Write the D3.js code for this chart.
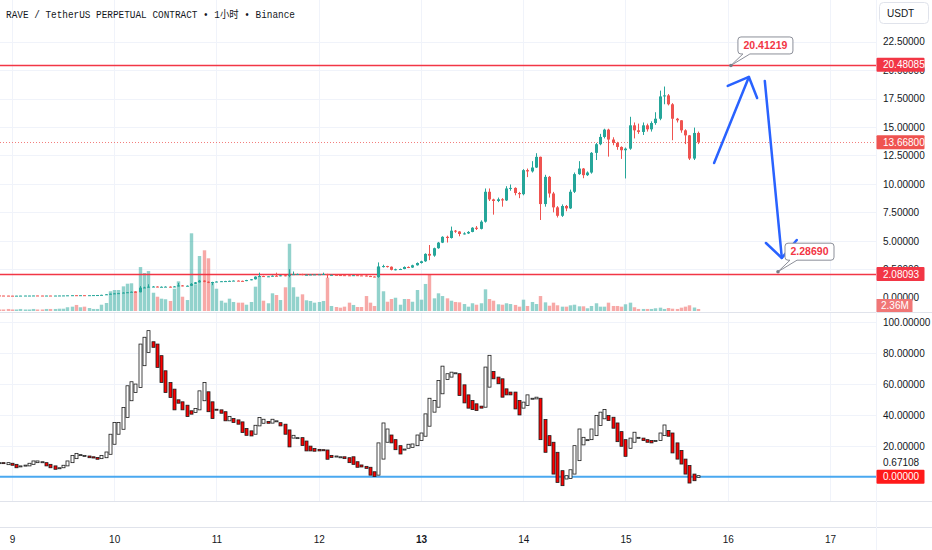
<!DOCTYPE html>
<html>
<head>
<meta charset="utf-8">
<script src="https://cdn.jsdelivr.net/npm/d3@7"></script>
<style>
body { margin: 0; background: #fff; }
svg text { font-family: "Liberation Sans", Arial, sans-serif; }
</style>
</head>
<body>
<svg id="chart" width="932" height="550"></svg>
<script>
// RAVE/USDT perp, 1h candles
// first candle is day 8 21:00 (hour -3 counted from day 9 00:00)
var firstHour = -3;

var opens = [
  .20,.19,.185,.18,.175,.18,.185,.19,.19,.195,.19,.185,
  .19,.185,.19,.195,.20,.21,.22,.21,.22,.21,.22,.23,
  .235,.25,.30,.35,.38,.40,.45,.48,.52,.48,.88,.90,
  .97,.98,.95,.96,.97,.94,.99,1.08,1.02,1.05,1.22,1.35,
  1.50,1.40,1.33,1.38,1.42,1.45,1.46,1.48,1.50,1.48,1.46,1.55,
  1.62,1.85,1.90,1.86,1.88,1.93,1.90,1.97,1.92,2.05,2.07,2.08,
  2.00,2.02,2.04,2.05,2.06,2.08,1.98,2.01,1.99,1.98,1.97,1.95,
  1.98,1.96,1.95,1.90,1.86,1.82,2.74,2.78,2.72,2.45,2.50,2.52,
  2.70,2.65,2.85,3.05,3.20,3.85,3.70,4.35,4.84,5.35,5.25,5.89,
  5.82,5.60,5.65,5.78,6.15,6.05,6.68,9.31,8.64,8.50,8.65,8.55,
  9.60,9.65,9.20,9.10,11.21,11.10,11.44,12.38,8.23,10.62,9.16,7.94,
  7.20,8.06,7.85,9.31,10.86,11.35,10.77,11.00,12.73,13.49,14.13,14.77,
  13.90,13.60,13.25,12.96,13.10,15.15,14.71,14.57,15.15,14.80,15.35,15.73,
  17.69,17.78,17.00,15.73,15.59,14.71,14.27,12.23,14.48
];
var highs = [
  .205,.195,.19,.185,.185,.19,.195,.195,.20,.20,.195,.195,
  .195,.195,.20,.205,.215,.225,.23,.225,.225,.225,.235,.24,
  .26,.31,.36,.40,.42,.47,.50,.55,.56,1.02,.96,1.18,
  1.02,1.00,.99,1.00,.99,1.02,1.30,1.10,1.08,1.28,1.38,1.56,
  1.52,1.43,1.40,1.44,1.47,1.48,1.50,1.52,1.52,1.50,1.57,1.64,
  1.88,2.20,1.93,1.90,1.96,2.20,1.99,2.00,2.50,2.30,2.12,2.10,
  2.04,2.06,2.07,2.08,2.20,2.10,2.03,2.03,2.01,2.00,1.99,2.00,
  2.00,1.98,1.97,1.93,1.88,3.10,2.90,2.80,2.75,2.55,2.56,2.75,
  2.75,2.90,3.10,3.25,3.90,4.63,4.40,4.90,5.40,5.45,6.25,5.95,
  5.85,5.75,5.85,6.20,6.30,6.80,9.60,9.60,8.70,8.80,8.75,9.80,
  9.95,9.70,9.30,11.30,11.35,12.00,12.70,12.40,10.80,10.70,9.30,8.05,
  8.20,8.15,9.50,11.00,12.00,11.40,11.10,12.80,13.60,14.40,14.85,14.85,
  14.10,13.70,13.30,13.20,15.90,15.40,15.30,15.40,15.30,15.50,16.30,18.20,
  18.56,17.90,17.10,15.80,15.60,14.80,14.30,14.95,14.60
];
var lows = [
  .185,.18,.175,.17,.17,.175,.18,.185,.185,.185,.18,.18,
  .18,.18,.185,.19,.195,.205,.20,.205,.20,.205,.215,.225,
  .23,.245,.29,.34,.37,.39,.44,.47,.46,.47,.85,.88,
  .93,.92,.93,.94,.91,.93,.98,1.00,1.00,1.03,1.20,1.33,
  1.36,1.28,1.10,1.36,1.40,1.42,1.44,1.46,1.46,1.44,1.45,1.53,
  1.60,1.83,1.82,1.84,1.86,1.88,1.88,1.88,1.80,2.00,2.04,1.97,
  1.98,2.00,2.02,2.03,2.04,1.73,1.96,1.98,1.97,1.96,1.93,1.94,
  1.95,1.94,1.88,1.84,1.80,1.75,2.65,2.65,2.40,2.40,2.45,2.50,
  2.60,2.62,2.82,3.00,3.15,3.30,3.60,4.30,4.80,4.85,5.20,5.70,
  5.40,5.55,5.60,5.75,5.95,6.00,6.60,8.50,7.30,8.40,8.00,8.50,
  9.40,9.00,8.75,9.00,10.60,11.00,11.40,6.83,8.00,8.80,7.50,7.05,
  7.10,7.60,7.80,9.20,10.80,10.50,10.70,10.90,12.10,13.40,14.00,12.40,
  13.40,13.00,12.20,10.48,13.00,14.00,14.40,14.30,14.60,14.60,15.20,15.60,
  17.00,16.90,13.84,15.40,14.50,13.50,12.10,12.10,13.50
];
var closes = [
  .19,.185,.18,.175,.18,.185,.19,.19,.195,.19,.185,.19,
  .185,.19,.195,.20,.21,.22,.21,.22,.21,.22,.23,.235,
  .25,.30,.35,.38,.40,.45,.48,.52,.48,.88,.90,.97,
  .98,.95,.96,.97,.94,.99,1.08,1.02,1.05,1.22,1.35,1.50,
  1.40,1.33,1.38,1.42,1.45,1.46,1.48,1.50,1.48,1.46,1.55,1.62,
  1.85,1.90,1.86,1.88,1.93,1.90,1.97,1.92,2.05,2.07,2.08,2.00,
  2.02,2.04,2.05,2.06,2.08,1.98,2.01,1.99,1.98,1.97,1.95,1.98,
  1.96,1.95,1.90,1.86,1.82,2.74,2.78,2.72,2.45,2.50,2.52,2.70,
  2.65,2.85,3.05,3.20,3.85,3.70,4.35,4.84,5.35,5.25,5.89,5.82,
  5.60,5.65,5.78,6.15,6.05,6.68,9.31,8.64,8.50,8.65,8.55,9.60,
  9.65,9.20,9.10,11.21,11.10,11.44,12.38,8.23,10.62,9.16,7.94,7.20,
  8.06,7.85,9.31,10.86,11.35,10.77,11.00,12.73,13.49,14.13,14.77,13.90,
  13.60,13.25,12.96,13.10,15.15,14.71,14.57,15.15,14.80,15.35,15.73,17.69,
  17.78,17.00,15.73,15.59,14.71,14.27,12.23,14.48,13.668
];
// volume in millions
var volumes = [
  1.8,1.8,2.4,1.8,1.8,2.4,1.8,1.8,2.4,1.8,1.8,2.4,
  2.4,2.4,2.7,2.7,4.4,5.1,7.1,4.4,5.1,3.5,2.4,2.4,
  7.4,9.4,23.2,24.7,24.7,29.0,32.1,32.6,23.5,51.7,44.7,47.0,
  21.5,16.8,14.5,13.8,11.8,26.2,34.9,16.8,12.9,91.4,31.4,64.7,
  71.4,62.0,33.3,26.2,12.1,9.8,14.5,10.6,9.8,9.8,7.4,10.6,
  28.6,41.2,12.1,9.1,20.8,18.8,12.9,27.9,79.1,27.9,16.8,19.6,
  12.6,11.8,9.8,10.6,11.8,39.2,5.9,4.7,3.9,5.1,9.8,7.1,
  4.7,4.7,17.6,9.8,5.9,52.1,23.2,10.9,14.1,15.6,7.4,14.1,
  14.1,10.9,24.7,13.3,31.8,43.5,14.9,20.8,17.6,14.9,12.1,10.6,
  10.2,8.2,5.1,9.1,7.4,9.1,25.5,14.1,12.1,7.9,7.4,9.1,
  8.2,7.1,5.1,13.3,5.9,10.6,8.2,17.6,10.2,6.2,9.8,6.7,
  5.1,5.1,6.7,7.4,5.5,5.5,3.2,5.9,9.1,5.1,5.1,9.8,
  5.9,5.9,5.1,7.9,9.8,4.4,2.4,2.4,2.4,2.4,3.2,3.9,
  2.4,3.5,2.7,2.4,3.9,5.1,6.7,4.1,2.36
];
// lower pane oscillator, drawn as open/close bodies
var oscOpen = [
  9.1,9.1,7.8,8.7,8.0,7.0,7.4,7.0,8.0,9.1,9.7,9.1,
  8.0,7.0,5.8,5.8,7.0,9.1,11.7,14.3,13.8,13.4,12.9,12.5,
  11.7,12.3,14.5,21.0,27.5,30.7,38.3,49.2,54.5,57.8,71.9,80.5,
  87.4,85.9,78.4,68.6,61.0,56.7,49.8,48.5,46.3,42.7,41.6,43.3,
  49.2,55.0,48.5,43.7,43.3,42.1,36.2,37.7,36.8,35.5,31.2,29.7,
  27.5,32.9,34.6,35.8,34.7,36.2,35.0,34.0,30.3,25.0,25.3,25.3,
  23.1,19.8,18.2,17.7,17.5,17.3,13.8,13.4,12.9,12.9,12.3,12.9,
  9.7,7.6,6.7,6.1,3.2,1.0,11.4,22.3,27.0,24.0,20.1,17.9,
  18.4,19.0,20.1,23.4,26.2,32.7,41.8,45.0,53.7,62.9,64.5,67.3,
  66.7,59.5,53.0,49.3,47.2,45.7,45.0,58.0,68.2,64.5,63.4,56.9,
  54.8,54.8,49.3,44.4,46.1,50.8,50.4,50.8,37.0,26.6,22.3,15.8,
  3.9,-1.5,-1.1,1.7,10.4,20.6,24.0,24.0,26.6,33.1,37.5,39.6,
  38.5,34.8,29.2,24.0,18.4,22.3,25.5,25.0,24.0,23.4,23.4,23.4,
  26.6,29.9,28.3,21.9,17.0,11.4,7.2,1.7,-0.4
];
var oscClose = [
  9.1,9.0,9.1,7.4,5.8,7.0,7.5,8.7,10.2,10.2,9.7,7.0,
  5.8,4.8,5.8,7.4,10.2,13.8,15.1,14.3,13.8,12.3,12.1,11.3,
  13.8,16.0,27.5,35.1,35.1,44.8,58.9,61.5,60.0,85.9,90.3,94.6,
  83.8,70.8,61.0,54.5,51.3,43.3,47.6,43.3,39.0,40.5,44.2,55.6,
  61.0,42.1,37.7,43.5,41.1,36.2,39.0,35.1,34.0,28.6,26.8,26.4,
  33.3,38.3,37.2,34.6,37.2,36.2,32.9,27.5,19.3,26.8,25.3,20.2,
  16.7,16.7,16.5,16.7,16.8,11.3,12.5,13.4,12.9,11.7,9.1,8.0,
  6.1,6.3,5.4,1.0,0.2,21.9,34.8,30.9,21.9,17.5,14.7,17.9,
  21.0,21.2,27.0,28.3,40.7,50.8,49.3,62.3,71.6,66.7,67.7,67.3,
  52.6,47.8,44.4,43.5,42.9,44.4,71.0,78.6,63.4,60.2,51.5,53.0,
  53.0,43.9,40.0,48.3,53.0,50.8,51.5,24.0,15.8,20.1,1.7,-3.7,
  -5.8,0.65,4.5,20.1,30.9,25.5,24.0,30.9,39.6,41.8,43.5,36.4,
  31.4,22.7,19.7,13.2,25.0,28.8,25.5,23.4,22.3,21.9,23.4,28.3,
  33.5,26.2,15.4,11.4,8.2,1.7,-4.1,-2.6,0.67108
];

// tick labels
var dayLabels = [9, 10, 11, 12, 13, 14, 15, 16, 17];
var boldDay = 13;
var priceTicks = [0, 2.5, 5, 7.5, 10, 12.5, 15, 17.5, 20, 22.5];
var oscTicks = [20, 40, 60, 80, 100];

// drawn levels + the author's annotations, in (hour, price)
var levelLines = [20.48085, 2.08093];
var upArrow = [[164.8, 11.84], [172.97, 19.40]];
var upHead = [[168.0, 18.61], [172.97, 19.40], [174.9, 17.55]];
var downArrow = [[176.7, 19.05], [180.7, 3.49]];
var downHead = [[176.97, 4.81], [180.7, 3.49], [184.2, 5.07]];
var callouts = [[168.75, 20.41219], [179.8, 2.28690]];

var green = '#26a69a', red = '#ef5350', lineRed = '#f23645';
var gridColor = '#f0f3fa', sepColor = '#e0e3eb', textColor = '#131722';

var svg = d3.select('#chart');
var plotW = 876;
var n = closes.length;
var idx = d3.range(n);
function hourOf(i) { return firstHour + i; }

var x = d3.scaleLinear().domain([-2.8, 202.8]).range([0, plotW]);
var yPrice = d3.scaleLinear().domain([0, 22.5]).range([297.7, 41.7]);
var yVol = d3.scaleLinear().domain([0, 100]).range([311, 226]);
var yOsc = d3.scaleLinear().domain([0, 100]).range([476.7, 322.3]);
var dayHours = dayLabels.map(function(d){ return (d - 9) * 24; });
var fmt5 = d3.format('.5f');

function cx(i) { return Math.round(x(hourOf(i))); }

var defs = svg.append('defs');
defs.append('clipPath').attr('id', 'clipTop').append('rect')
    .attr('x', 0).attr('y', 0).attr('width', plotW).attr('height', 311);
defs.append('clipPath').attr('id', 'clipOsc').append('rect')
    .attr('x', 0).attr('y', 313).attr('width', plotW).attr('height', 188);

// GRID
var grid = svg.append('g');
dayHours.forEach(function(h){
    var gx = Math.round(x(h)) + 0.5;
    grid.append('line').attr('x1', gx).attr('x2', gx).attr('y1', 0).attr('y2', 311).attr('stroke', gridColor);
    grid.append('line').attr('x1', gx).attr('x2', gx).attr('y1', 313).attr('y2', 501).attr('stroke', gridColor);
});
priceTicks.slice(1).forEach(function(p){
    var gy = Math.round(yPrice(p)) + 0.5;
    grid.append('line').attr('x1', 0).attr('x2', plotW).attr('y1', gy).attr('y2', gy).attr('stroke', gridColor);
});
oscTicks.forEach(function(v){
    var gy = Math.round(yOsc(v)) + 0.5;
    grid.append('line').attr('x1', 0).attr('x2', plotW).attr('y1', gy).attr('y2', gy).attr('stroke', gridColor);
});

// VOLUME (overlay at the bottom of the price pane)
var pricePane = svg.append('g').attr('clip-path', 'url(#clipTop)');
pricePane.selectAll('rect.vol').data(idx).enter().append('rect')
    .attr('class', 'vol')
    .attr('x', function(i){ return cx(i) - 1.2; })
    .attr('width', 3.4)
    .attr('y', function(i){ return yVol(volumes[i]); })
    .attr('height', function(i){ return yVol(0) - yVol(volumes[i]); })
    .attr('fill', function(i){ return closes[i] >= opens[i] ? green : red; })
    .attr('fill-opacity', 0.5);

// level lines + last price
levelLines.forEach(function(p){
    var ly = Math.round(yPrice(p)) + 0.5;
    pricePane.append('line').attr('x1', 0).attr('x2', plotW).attr('y1', ly).attr('y2', ly)
        .attr('stroke', lineRed).attr('stroke-width', 1.5);
});
var lastY = Math.round(yPrice(closes[n - 1])) + 0.5;
pricePane.append('line').attr('x1', 0).attr('x2', plotW).attr('y1', lastY).attr('y2', lastY)
    .attr('stroke', red).attr('stroke-opacity', 0.75).attr('stroke-dasharray', '1 2');

// CANDLES
var candles = pricePane.selectAll('g.candle').data(idx).enter().append('g')
    .attr('class', 'candle')
    .attr('fill', function(i){ return closes[i] >= opens[i] ? green : red; })
    .attr('stroke', function(i){ return closes[i] >= opens[i] ? green : red; });
candles.append('line')
    .attr('x1', function(i){ return cx(i) + 0.5; })
    .attr('x2', function(i){ return cx(i) + 0.5; })
    .attr('y1', function(i){ return yPrice(highs[i]); })
    .attr('y2', function(i){ return yPrice(lows[i]); })
    .attr('stroke-width', 1);
candles.append('rect')
    .attr('stroke', 'none')
    .attr('x', function(i){ return cx(i) - 1; })
    .attr('width', 3)
    .attr('y', function(i){ return yPrice(Math.max(opens[i], closes[i])); })
    .attr('height', function(i){ return Math.max(1, Math.abs(yPrice(opens[i]) - yPrice(closes[i]))); });

// OSCILLATOR PANE
var oscPane = svg.append('g').attr('clip-path', 'url(#clipOsc)');
oscPane.append('line').attr('x1', 0).attr('x2', plotW).attr('y1', yOsc(0)).attr('y2', yOsc(0))
    .attr('stroke', '#4aa8f0').attr('stroke-width', 2);
oscPane.selectAll('rect.osc').data(idx).enter().append('rect')
    .attr('class', 'osc')
    .attr('x', function(i){ return cx(i) - 1; })
    .attr('width', 3)
    .attr('y', function(i){ return yOsc(Math.max(oscOpen[i], oscClose[i])); })
    .attr('height', function(i){ return Math.max(1, Math.abs(yOsc(oscOpen[i]) - yOsc(oscClose[i]))); })
    .attr('fill', function(i){ return oscClose[i] >= oscOpen[i] ? '#ffffff' : '#ff0000'; })
    .attr('stroke', '#1b1b1b').attr('stroke-width', 0.8);

// PANE SEPARATORS
[312.5, 501.5, 527.5].forEach(function(sy){
    svg.append('line').attr('x1', 0).attr('x2', 932).attr('y1', sy).attr('y2', sy).attr('stroke', sepColor);
});
svg.append('line').attr('x1', plotW + 0.5).attr('x2', plotW + 0.5).attr('y1', 0).attr('y2', 550).attr('stroke', gridColor);

// AXES
var priceAxis = svg.append('g').attr('transform', 'translate(' + plotW + ',0)')
    .call(d3.axisRight(yPrice).tickValues(priceTicks).tickSize(0).tickPadding(7).tickFormat(fmt5));
var oscAxis = svg.append('g').attr('transform', 'translate(' + plotW + ',0)')
    .call(d3.axisRight(yOsc).tickValues(oscTicks).tickSize(0).tickPadding(7).tickFormat(fmt5));
var timeAxis = svg.append('g').attr('transform', 'translate(0,527)')
    .call(d3.axisBottom(x).tickValues(dayHours).tickSize(0).tickPadding(9)
        .tickFormat(function(h){ return 9 + h / 24; }));
[priceAxis, oscAxis, timeAxis].forEach(function(a){
    a.select('.domain').remove();
    a.selectAll('text').attr('fill', textColor).style('font-size', '10px')
        .style('font-family', '"Liberation Sans", Arial, sans-serif');
});
timeAxis.selectAll('text')
    .style('font-weight', function(h){ return (9 + h / 24) === boldDay ? 'bold' : 'normal'; });

// right-scale value boxes
function valueBox(cy, label, fill) {
    var g = svg.append('g');
    g.append('rect').attr('x', plotW + 0.5).attr('y', cy - 7).attr('width', 48).attr('height', 14)
        .attr('rx', 1).attr('fill', fill);
    g.append('text').attr('x', plotW + 7).attr('y', cy).attr('dy', '0.35em')
        .attr('fill', '#fff').style('font-size', '10px').text(label);
}
valueBox(yPrice(levelLines[0]), fmt5(levelLines[0]), lineRed);
valueBox(yPrice(closes[n - 1]), fmt5(closes[n - 1]), red);
valueBox(yPrice(levelLines[1]), fmt5(levelLines[1]), lineRed);
var volLabelY = Math.min(yVol(volumes[n - 1]), 305.5);
svg.append('rect').attr('x', plotW + 0.5).attr('y', volLabelY - 6.5).attr('width', 36).attr('height', 13)
    .attr('fill', '#f07676');
svg.append('text').attr('x', plotW + 5).attr('y', volLabelY).attr('dy', '0.35em')
    .attr('fill', '#fff').style('font-size', '10px').text(d3.format('.2f')(volumes[n - 1]) + 'M');

// oscillator last value + zero level
var lastOsc = oscClose[n - 1];
svg.append('text').attr('x', plotW + 7).attr('y', yOsc(lastOsc) - 13).attr('dy', '0.35em')
    .attr('fill', textColor).style('font-size', '10px').text(fmt5(lastOsc));
valueBox(yOsc(0), fmt5(0), '#ff1a1a');

// currency box
svg.append('rect').attr('x', 879.5).attr('y', 2.5).attr('width', 49).attr('height', 21).attr('rx', 4)
    .attr('fill', '#fff').attr('stroke', sepColor);
svg.append('text').attr('x', 887).attr('y', 17).attr('fill', textColor).style('font-size', '10px').text('USDT');

// ANNOTATIONS
var pline = d3.line().x(function(d){ return x(d[0]); }).y(function(d){ return yPrice(d[1]); });
[upArrow, upHead, downArrow, downHead].forEach(function(pts){
    svg.append('path').attr('d', pline(pts)).attr('fill', 'none')
        .attr('stroke', '#2962ff').attr('stroke-width', 2.5)
        .attr('stroke-linecap', 'round').attr('stroke-linejoin', 'round');
});

callouts.forEach(function(c){
    var px = x(c[0]), py = yPrice(c[1]);
    var label = fmt5(c[1]);
    var w = label.length * 6 + 7, h = 17, r = 3;
    var bx = px + 7, by = py - 28.5;
    var d = 'M' + (bx + r) + ',' + by + 'H' + (bx + w - r) +
        'Q' + (bx + w) + ',' + by + ' ' + (bx + w) + ',' + (by + r) +
        'V' + (by + h - r) + 'Q' + (bx + w) + ',' + (by + h) + ' ' + (bx + w - r) + ',' + (by + h) +
        'H' + (bx + 12) + 'L' + px + ',' + py + 'L' + (bx + 5) + ',' + (by + h) +
        'H' + (bx + r) + 'Q' + bx + ',' + (by + h) + ' ' + bx + ',' + (by + h - r) +
        'V' + (by + r) + 'Q' + bx + ',' + by + ' ' + (bx + r) + ',' + by + 'Z';
    svg.append('path').attr('d', d).attr('fill', '#fff').attr('stroke', '#8c8f99').attr('stroke-width', 1);
    svg.append('circle').attr('cx', px).attr('cy', py).attr('r', 1.8).attr('fill', '#787b86');
    svg.append('text').attr('x', bx + w / 2).attr('y', by + h / 2).attr('dy', '0.35em')
        .attr('text-anchor', 'middle').attr('fill', lineRed)
        .style('font-size', '10.5px').style('font-weight', 'bold').text(label);
});

// TITLE
svg.append('text').attr('x', 6).attr('y', 18).attr('fill', textColor)
    .attr('textLength', 289).attr('lengthAdjust', 'spacingAndGlyphs')
    .style('font-family', '"Liberation Mono", "Noto Sans CJK SC", monospace').style('font-size', '10px')
    .text('RAVE / TetherUS PERPETUAL CONTRACT \u2022 1\u5c0f\u65f6 \u2022 Binance');
</script>
</body>
</html>
